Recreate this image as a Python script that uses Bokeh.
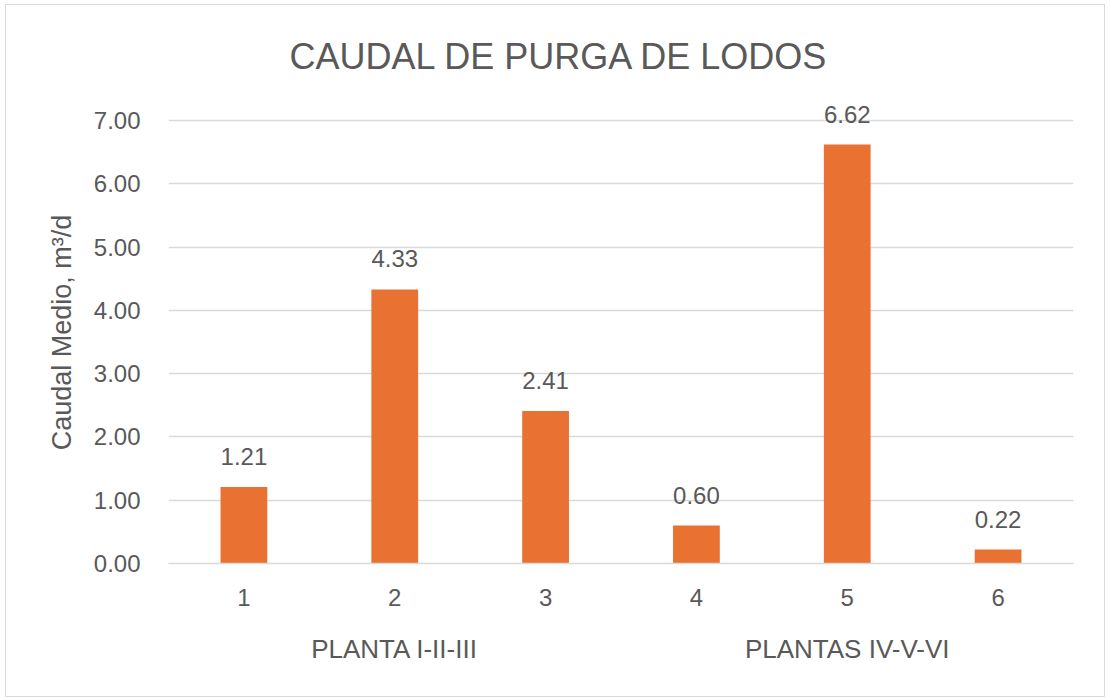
from bokeh.plotting import figure
from bokeh.models import FactorRange, ColumnDataSource, FixedTicker, LabelSet, PrintfTickFormatter
from bokeh.core.properties import value
from bokeh.embed import file_html
from bokeh.resources import INLINE

groups = ["PLANTA I-II-III"] * 3 + ["PLANTAS IV-V-VI"] * 3
plants = ["1", "2", "3", "4", "5", "6"]
caudal = [1.21, 4.33, 2.41, 0.60, 6.62, 0.22]
y_ticks = [0, 1, 2, 3, 4, 5, 6, 7]

FONT = "Liberation Sans"
GREY = "#595959"

factors = list(zip(groups, plants))
src = ColumnDataSource(dict(x=factors, y=caudal, lab=[f"{v:.2f}" for v in caudal]))

p = figure(x_range=FactorRange(*factors, group_padding=0, range_padding=0),
           y_range=(0, 7.3), width=1100, height=693,
           output_backend="svg", toolbar_location=None,
           min_border_left=162, min_border_right=33, min_border_top=96, min_border_bottom=135)
p.styles = {"border": "1px solid #d9d9d9", "margin-left": "5px", "margin-top": "4px"}

p.vbar(x="x", top="y", width=0.31, source=src, color="#E97132", line_color=None)

labels = LabelSet(x="x", y="y", text="lab", source=src, text_align="center",
                  text_baseline="bottom", y_offset=22, text_font_size="24px",
                  text_color=GREY, text_font=value(FONT))
p.add_layout(labels)

p.title.text = "CAUDAL DE PURGA DE LODOS"
p.title.align = "left"
p.title.offset = 121
p.title.text_font_size = "36px"
p.title.text_font_style = "normal"
p.title.text_color = GREY
p.title.text_font = FONT
p.title.standoff = 50

p.outline_line_color = None
p.xgrid.grid_line_color = None
p.ygrid.grid_line_color = "#d9d9d9"
p.ygrid.grid_line_width = 1.5

p.yaxis.ticker = FixedTicker(ticks=y_ticks)
p.yaxis.formatter = PrintfTickFormatter(format="%.2f")
p.yaxis.axis_line_color = None
p.yaxis.major_tick_line_color = None
p.yaxis.major_tick_out = 0
p.yaxis.minor_tick_line_color = None
p.yaxis.major_label_standoff = 28
p.yaxis.major_label_text_font_size = "24px"
p.yaxis.major_label_text_color = GREY
p.yaxis.major_label_text_font = FONT
p.yaxis.axis_label = "Caudal Medio, m³/d"
p.yaxis.axis_label_text_font_size = "27px"
p.yaxis.axis_label_text_font_style = "normal"
p.yaxis.axis_label_text_color = GREY
p.yaxis.axis_label_text_font = FONT
p.yaxis.axis_label_standoff = 14

p.xaxis.axis_line_color = "#d9d9d9"
p.xaxis.axis_line_width = 1.5
p.xaxis.major_tick_line_color = None
p.xaxis.major_tick_out = 0
p.xaxis.major_label_standoff = 25
p.xaxis.major_label_text_font_size = "24px"
p.xaxis.major_label_text_color = GREY
p.xaxis.major_label_text_font = FONT
p.xaxis.group_text_font_size = "26px"
p.xaxis.group_text_color = GREY
p.xaxis.group_text_font = FONT
p.xaxis.group_text_font_style = "normal"
p.xaxis.separator_line_color = None

open("out.html", "w").write(file_html(p, INLINE))
